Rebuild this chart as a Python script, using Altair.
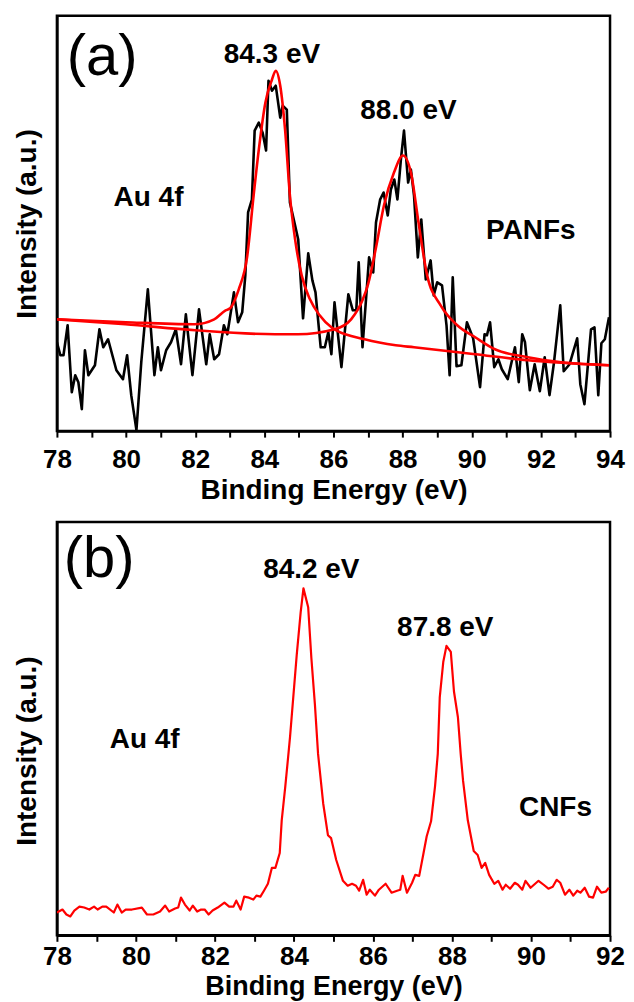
import altair as alt
import pandas as pd

FONT = "Liberation Sans"
RED = "#ff0000"

# ---------------- Panel (a): PANFs ----------------
a_energy = [78.00, 78.10, 78.19, 78.31, 78.43, 78.53, 78.62, 78.72, 78.81, 78.91,
            79.10, 79.23, 79.34, 79.48, 79.72, 79.91, 80.03, 80.15, 80.30, 80.44,
            80.63, 80.82, 80.92, 81.01, 81.16, 81.30, 81.44, 81.59, 81.73, 81.92,
            82.11, 82.32, 82.42, 82.55, 82.69, 82.83, 82.93, 83.12, 83.24, 83.36,
            83.45, 83.53, 83.64, 83.72, 83.84, 83.95, 84.05, 84.12, 84.22, 84.33,
            84.46, 84.53, 84.65, 84.74, 84.89, 84.98, 85.12, 85.27, 85.39, 85.48,
            85.63, 85.75, 85.85, 85.94, 86.03, 86.23, 86.43, 86.56, 86.66, 86.73,
            86.84, 87.03, 87.15, 87.23, 87.35, 87.45, 87.57, 87.66, 87.76, 87.85,
            87.95, 88.04, 88.16, 88.24, 88.33, 88.44, 88.54, 88.67, 88.81, 88.90,
            89.00, 89.14, 89.27, 89.36, 89.45, 89.56, 89.70, 89.86, 90.04, 90.24,
            90.37, 90.44, 90.53, 90.65, 90.77, 90.87, 91.04, 91.25, 91.36, 91.46,
            91.54, 91.68, 91.82, 91.97, 92.11, 92.25, 92.38, 92.56, 92.66, 92.83,
            93.05, 93.14, 93.26, 93.45, 93.55, 93.66, 93.75, 93.85, 93.97]
a_intensity = [89, 76, 76, 106, 39, 56, 49, 22, 81, 56,
               66, 102, 84, 92, 61, 52, 76, 36, 1, 69,
               142, 56, 84, 61, 81, 89, 102, 67, 117, 56,
               122, 67, 97, 72, 77, 106, 97, 139, 109, 119,
               156, 219, 232, 301, 309, 299, 281, 351, 341, 346,
               314, 326, 322, 229, 206, 192, 113, 178, 151, 139,
               84, 84, 99, 77, 129, 64, 137, 121, 121, 169,
               84, 174, 159, 209, 232, 239, 216, 242, 252, 232,
               272, 301, 249, 262, 236, 174, 212, 152, 171, 136,
               149, 146, 106, 56, 154, 65, 66, 109, 93, 44,
               97, 96, 109, 64, 72, 62, 52, 84, 49, 97,
               89, 41, 67, 40, 74, 36, 69, 126, 60, 67,
               93, 47, 27, 102, 104, 36, 88, 92, 114]

# fitted component 1 (84.3 eV) on background
a_fit1_energy = [78.00, 80.00, 81.97, 82.55, 82.88, 83.01, 83.26, 83.50, 83.69, 83.84,
                 84.03, 84.22, 84.33, 84.46, 84.60, 84.74, 84.89, 85.08, 85.32, 85.60,
                 85.94, 86.08, 86.90, 87.80, 88.33, 90.10, 91.63, 93.97]
a_fit1_intensity = [112, 109, 107, 112, 121, 123, 142, 174, 236, 282,
                    329, 352, 361, 346, 302, 236, 192, 156, 132, 116,
                    104, 101, 92, 86, 84, 77, 71, 66]

# fitted component 2 (88.0 eV) on background
a_fit2_energy = [78.00, 79.98, 82.01, 84.31, 84.97, 86.03, 86.51, 86.85, 87.00, 87.23,
                 87.46, 87.75, 88.01, 88.24, 88.46, 88.71, 89.10, 89.58, 90.10, 90.67,
                 91.62, 92.59, 93.97]
a_fit2_intensity = [112, 107, 101, 97, 97, 102, 112, 132, 147, 184,
                    226, 259, 276, 259, 209, 156, 126, 106, 94, 82,
                    74, 69, 66]

# ---------------- Panel (b): CNFs ----------------
b_energy = [78.00, 78.14, 78.24, 78.34, 78.44, 78.57, 78.69, 78.82, 78.94, 79.03,
            79.15, 79.25, 79.44, 79.53, 79.64, 79.74, 79.90, 80.15, 80.28, 80.44,
            80.61, 80.74, 80.84, 80.99, 81.07, 81.14, 81.24, 81.36, 81.44, 81.55,
            81.65, 81.74, 81.84, 81.94, 82.07, 82.24, 82.36, 82.47, 82.54, 82.65,
            82.74, 82.86, 82.97, 83.05, 83.15, 83.24, 83.34, 83.44, 83.53, 83.64,
            83.69, 83.78, 83.86, 83.90, 84.07, 84.17, 84.24, 84.36, 84.44, 84.53,
            84.61, 84.74, 84.86, 84.94, 85.07, 85.24, 85.36, 85.47, 85.57, 85.65,
            85.75, 85.84, 85.92, 86.05, 86.15, 86.32, 86.47, 86.61, 86.69, 86.75,
            86.86, 86.99, 87.07, 87.17, 87.28, 87.36, 87.47, 87.57, 87.64, 87.69,
            87.78, 87.86, 87.97, 88.05, 88.15, 88.22, 88.28, 88.40, 88.55, 88.65,
            88.75, 88.84, 88.94, 89.07, 89.17, 89.28, 89.36, 89.47, 89.59, 89.67,
            89.78, 89.86, 89.99, 90.19, 90.32, 90.44, 90.55, 90.65, 90.74, 90.86,
            90.97, 91.07, 91.17, 91.25, 91.36, 91.47, 91.57, 91.67, 91.78, 91.89,
            91.97]
b_intensity = [23, 26, 21, 19, 25, 29, 28, 26, 29, 26,
               29, 29, 23, 31, 23, 26, 26, 28, 21, 21,
               24, 30, 24, 27, 28, 38, 31, 25, 30, 24,
               26, 26, 21, 25, 28, 33, 29, 29, 35, 26,
               39, 38, 36, 40, 39, 45, 52, 68, 68, 83,
               116, 150, 183, 200, 283, 326, 350, 331, 280, 233,
               183, 133, 101, 98, 76, 55, 50, 52, 50, 45,
               56, 41, 46, 40, 46, 52, 43, 45, 46, 60,
               43, 53, 61, 60, 83, 100, 115, 150, 183, 240,
               276, 292, 286, 246, 220, 183, 156, 116, 85, 81,
               68, 73, 61, 52, 55, 46, 51, 47, 53, 51,
               46, 55, 48, 55, 51, 47, 49, 56, 53, 41,
               46, 40, 45, 43, 48, 39, 38, 49, 43, 44,
               48]

# ---------------- Annotations ----------------
a_labels = ["84.3 eV", "88.0 eV", "Au 4f", "PANFs"]
a_label_E = [84.22, 88.17, 80.65, 91.71]
a_label_I = [377, 321, 233, 200]
b_labels = ["84.2 eV", "87.8 eV", "Au 4f", "CNFs"]
b_label_E = [84.44, 87.83, 80.22, 90.62]
b_label_I = [369, 310, 197, 128]


def panel(xdom, ydom, width, height, xticks, layers_data, labels_df, tag, tag_pos,
          label_pad, title_pad, title_size, title_y=None):
    x_axis = alt.Axis(
        title="Binding Energy (eV)", values=xticks,
        labelExpr="datum.value % 2 == 0 ? datum.label : ''",
        labelOverlap=False, labelFlush=False, grid=False,
        tickSize=6, tickWidth=2, tickColor="black",
        domainColor="black", domainWidth=2.5,
        labelFont=FONT, labelFontSize=26, labelFontWeight="bold", labelColor="black",
        labelPadding=label_pad,
        titleFont=FONT, titleFontSize=title_size, titleFontWeight="bold", titleColor="black",
        titlePadding=title_pad,
    )
    y_kwargs = dict(
        title="Intensity (a.u.)", ticks=False, labels=False, grid=False,
        domainColor="black", domainWidth=2.5,
        titleFont=FONT, titleFontSize=28, titleFontWeight="bold", titleColor="black",
        titlePadding=15,
    )
    if title_y is not None:
        y_kwargs["titleY"] = title_y
    y_axis = alt.Axis(**y_kwargs)
    xs = alt.Scale(domain=xdom, nice=False, zero=False)
    ys = alt.Scale(domain=ydom, nice=False, zero=False)

    def xenc():
        return alt.X("E:Q", scale=xs, axis=x_axis)

    def yenc():
        return alt.Y("I:Q", scale=ys, axis=y_axis)

    layers = []
    for df, color, width_px, interp in layers_data:
        layers.append(
            alt.Chart(df).mark_line(color=color, strokeWidth=width_px, interpolate=interp,
                                    clip=True, strokeJoin="round")
            .encode(x=xenc(), y=yenc())
        )
    layers.append(
        alt.Chart(labels_df).mark_text(font=FONT, fontSize=28, fontWeight="bold",
                                       color="black", baseline="middle", align="center")
        .encode(x=xenc(), y=yenc(), text="text:N")
    )
    tag_df = pd.DataFrame({"E": [tag_pos[0]], "I": [tag_pos[1]], "text": [tag]})
    layers.append(
        alt.Chart(tag_df).mark_text(font=FONT, fontSize=58, fontWeight="normal",
                                    color="black", baseline="middle", align="center")
        .encode(x=xenc(), y=yenc(), text="text:N")
    )
    return alt.layer(*layers).properties(width=width, height=height)


a_raw = pd.DataFrame({"E": a_energy, "I": a_intensity})
a_f1 = pd.DataFrame({"E": a_fit1_energy, "I": a_fit1_intensity})
a_f2 = pd.DataFrame({"E": a_fit2_energy, "I": a_fit2_intensity})
a_lab = pd.DataFrame({"E": a_label_E, "I": a_label_I, "text": a_labels})

b_raw = pd.DataFrame({"E": b_energy, "I": b_intensity})
b_lab = pd.DataFrame({"E": b_label_E, "I": b_label_I, "text": b_labels})

chart_a = panel([78, 94], [0, 416], 554, 416, list(range(78, 95)),
                [(a_raw, "black", 2.6, "linear"),
                 (a_f1, RED, 2.6, "monotone"),
                 (a_f2, RED, 2.6, "monotone")],
                a_lab, "(a)", (79.31, 374),
                label_pad=9, title_pad=4, title_size=28)

chart_b = panel([78, 92], [0, 417], 554, 414, list(range(78, 93)),
                [(b_raw, RED, 2.2, "linear")],
                b_lab, "(b)", (79.07, 379),
                label_pad=2, title_pad=4, title_size=27, title_y=229)

chart = alt.vconcat(chart_a, chart_b, spacing=14).properties(
    padding={"left": 4, "top": 5, "right": 0, "bottom": 0}
).configure(background="white").configure_view(stroke="black", strokeWidth=2.5)

chart.save("out.html", embed_options={"renderer": "svg", "actions": False})
